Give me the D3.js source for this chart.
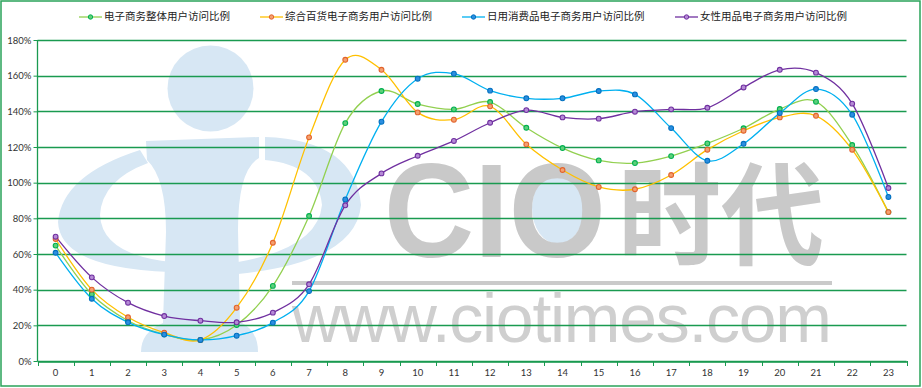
<!DOCTYPE html>
<html><head><meta charset="utf-8">
<script src="https://cdn.jsdelivr.net/npm/d3@7/dist/d3.min.js"></script>
<style>
html,body{margin:0;padding:0;background:#fff;}
svg{display:block;}
</style></head>
<body>
<svg id="chart" width="922" height="388"></svg>
<script>
const hours = ["0","1","2","3","4","5","6","7","8","9","10","11","12","13","14","15","16","17","18","19","20","21","22","23"];
const seriesNames = ["电子商务整体用户访问比例","综合百货电子商务用户访问比例","日用消费品电子商务用户访问比例","女性用品电子商务用户访问比例"];
const overall = [64.7,37.4,22.6,15.0,11.8,20.2,42.1,81.3,133.4,151.4,144.1,141.1,145.2,130.8,119.4,112.5,111.0,114.9,122.0,130.5,141.3,145.4,121.1,83.5];
const department = [68.4,40.0,24.5,15.9,11.8,29.9,66.3,125.4,168.9,163.3,139.4,135.3,142.8,121.5,107.1,97.6,96.3,104.3,118.5,129.1,136.6,137.5,118.5,83.5];
const consumer = [60.7,34.9,21.7,14.8,11.8,14.2,21.5,39.2,90.6,134.2,158.3,161.1,151.6,147.3,147.3,151.4,149.5,130.6,112.3,121.8,139.0,152.5,138.1,92.0];
const female = [69.7,46.9,32.7,25.2,22.6,21.7,27.1,43.0,87.3,105.2,115.1,123.4,133.6,140.7,136.6,135.9,139.8,141.1,142.0,153.4,163.3,161.7,144.3,97.0];
const yTicks = [0,20,40,60,80,100,120,140,160,180];
const lineColors = ["#92d050","#ffc000","#00b0f0","#7030a0"];
const markColors = ["#00b050","#e2632b","#0070c0","#7030a0"];
const markFills = ["#5fd07a","#f4a070","#2c8ee0","#b58ad6"];

const svg = d3.select("#chart");
const W = 922, H = 388;
const x = d3.scaleBand().domain(hours).range([37.5, 906.5]);
const y = d3.scaleLinear().domain([0,180]).range([361, 40]);
const green = "#1a9a50";

// border
svg.append("rect").attr("x",1).attr("y",1).attr("width",W-3).attr("height",H-3)
  .attr("fill","#fff").attr("stroke","#2aa35a").attr("stroke-width",1.5);

// watermark
const wm = svg.append("g");
const lb = "#d7e7f4";
wm.append("circle").attr("cx",210.5).attr("cy",88.5).attr("r",43).attr("fill",lb);
wm.append("path").attr("fill",lb).attr("d",
 "M146,141 L259,137 L259,158 Q238,170 238,230 L240,322 Q258,330 258,352 L141,352 Q141,332 163,323 L166,232 Q166,178 147,160 Z");
wm.append("path").attr("fill",lb).attr("d",
 "M140,150 Q62,175 58,222 Q60,268 170,272 L172,262 Q102,255 100,215 Q102,180 148,163 Z");
wm.append("path").attr("fill",lb).attr("d",
 "M265,137 Q355,140 361,205 Q356,262 238,274 L238,262 Q318,248 322,205 Q318,165 265,160 Z");
wm.append("ellipse").attr("cx",558).attr("cy",208).attr("rx",26).attr("ry",36).attr("fill",lb);
wm.append("text").attr("x",384).attr("y",257).attr("font-family","Liberation Sans, Arial, sans-serif")
  .attr("font-weight","bold").attr("font-size",134).attr("fill","#c9c9c9").attr("textLength",222)
  .attr("lengthAdjust","spacingAndGlyphs").text("CIO");
wm.append("text").attr("x",618).attr("y",257).attr("font-family","Noto Sans CJK SC, sans-serif")
  .attr("font-weight","bold").attr("font-size",112).attr("fill","#c9c9c9").attr("textLength",206)
  .attr("lengthAdjust","spacingAndGlyphs").text("时代");
wm.append("rect").attr("x",292).attr("y",281).attr("width",540).attr("height",4).attr("fill","#cacaca");
wm.append("text").attr("x",292).attr("y",342).attr("font-family","Liberation Sans, Arial, sans-serif")
  .attr("font-size",68).attr("fill","#cfcfcf").attr("textLength",540)
  .attr("lengthAdjust","spacing").text("www.ciotimes.com");

// gridlines
svg.append("g").selectAll("line").data(yTicks).join("line")
  .attr("x1",37.5).attr("x2",906.5).attr("y1",d=>Math.round(y(d))+0.5).attr("y2",d=>Math.round(y(d))+0.5)
  .attr("stroke",green).attr("stroke-width",1.3);

// y axis
const yAxis = svg.append("g").attr("transform","translate(37.5,0)")
  .call(d3.axisLeft(y).tickValues(yTicks).tickSize(4).tickFormat(d=>d+"%"));
yAxis.select(".domain").attr("stroke",green).attr("stroke-width",1.3).attr("d","M0,40V361.5");
yAxis.selectAll(".tick line").attr("stroke",green);
yAxis.selectAll(".tick text").attr("font-family","Lato, 'Open Sans', sans-serif").attr("font-size",9.5).attr("fill","#333").attr("x",-6);

// x axis
const xAxis = svg.append("g").attr("transform","translate(0,361.5)")
  .call(d3.axisBottom(x).tickSize(0).tickPadding(8));
xAxis.select(".domain").attr("stroke",green).attr("stroke-width",1.3);
xAxis.selectAll(".tick text").attr("font-family","Lato, 'Open Sans', sans-serif").attr("font-size",9.5).attr("fill","#333").attr("dy","0.71em");
const bounds = hours.map(h=>x(h)).concat([x(hours[hours.length-1])+x.bandwidth()]);
svg.append("g").selectAll("line").data(bounds).join("line")
  .attr("x1",d=>Math.round(d)+0.5).attr("x2",d=>Math.round(d)+0.5).attr("y1",361).attr("y2",366)
  .attr("stroke",green).attr("stroke-width",1);

// series
const data = [overall, department, consumer, female];
const cx = h => x(h) + x.bandwidth()/2;
const line = d3.line().x((d,i)=>cx(hours[i])).y(d=>y(d)).curve(d3.curveCatmullRom.alpha(0));
const order = [0,1,2,3];
order.forEach(k=>{
  svg.append("path").attr("d",line(data[k])).attr("fill","none").attr("stroke",lineColors[k]).attr("stroke-width",1.3);
});
order.forEach(k=>{
  svg.append("g").selectAll("circle").data(data[k]).join("circle")
    .attr("cx",(d,i)=>cx(hours[i])).attr("cy",d=>y(d)).attr("r",2.4)
    .attr("fill",markFills[k]).attr("stroke",markColors[k]).attr("stroke-width",1.1);
});

// legend
const legX = [79, 260, 462, 675];
const lg = svg.append("g");
seriesNames.forEach((n,k)=>{
  const g = lg.append("g").attr("transform",`translate(${legX[k]},16.5)`);
  g.append("line").attr("x1",0).attr("x2",23).attr("y1",0.5).attr("y2",0.5).attr("stroke",lineColors[k]).attr("stroke-width",1.3);
  g.append("circle").attr("cx",11.5).attr("cy",0.5).attr("r",2.2).attr("fill",markFills[k]).attr("stroke",markColors[k]).attr("stroke-width",1);
  g.append("text").attr("x",25).attr("y",0).attr("dy","0.35em").attr("font-family","'Noto Sans CJK SC', sans-serif")
    .attr("font-size",10.5).attr("fill","#222").text(n);
});
</script>
</body></html>
